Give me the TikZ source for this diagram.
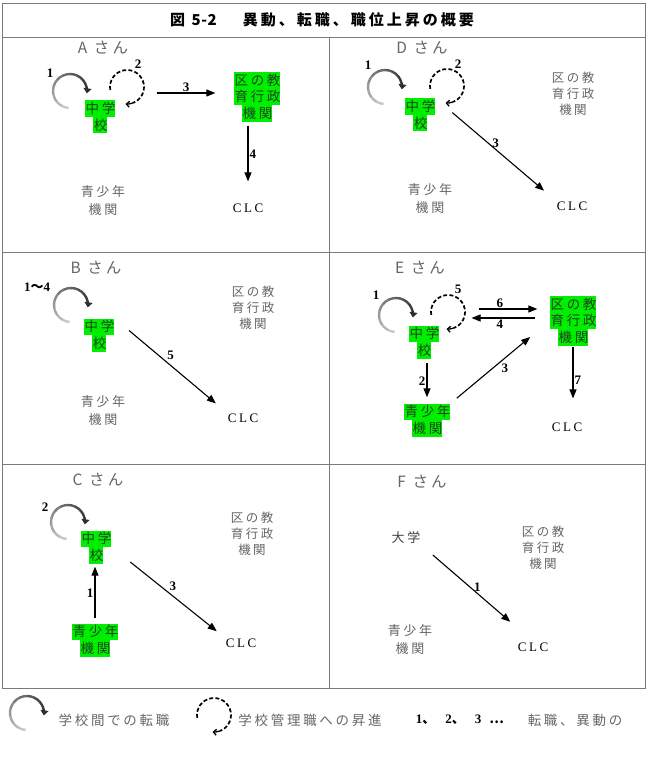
\documentclass[tikz,border=0pt]{standalone}
\usepackage{fontspec}
\setmainfont{Liberation Serif}
\newfontfamily\jp[LetterSpace=20]{Noto Sans CJK JP}
\newfontfamily\jpwide[LetterSpace=20]{Noto Sans CJK JP}
\newfontfamily\clcfont[LetterSpace=20]{Liberation Serif}
\usetikzlibrary{arrows.meta}
\definecolor{hlgreen}{HTML}{00EE00}
\definecolor{hltext}{HTML}{1A441A}
\definecolor{txtgray}{HTML}{666666}
\definecolor{framegray}{HTML}{7A7A7A}
\newcommand{\hlbox}[1]{{\setlength{\fboxsep}{0pt}\colorbox{hlgreen}{\rule[-3.4pt]{0pt}{16.5pt}\hspace{1pt}#1}}}

\tikzset{
  turn/.pic={
    \foreach \i in {0,...,9}{
      \pgfmathtruncatemacro{\sh}{22+6*\i}
      \draw[line width=2.4pt, black!\sh] (95+25*\i:17) arc[start angle=95+25*\i, delta angle=26, radius=17];
    }
    \draw[line width=2.4pt, black!82, -{Triangle[length=5pt,width=8pt]}] (345:17) arc[start angle=345, end angle=368, radius=17];
  },
  climb/.pic={
    \draw[line width=1.7pt, dash pattern=on 4pt off 2.2pt] (170:17) arc[start angle=170, end angle=430, radius=17];
    \draw[line width=1.3pt, -{Straight Barb[length=3pt,width=6pt]}] (430:17) arc[start angle=430, end angle=455, radius=17];
  }
}

\begin{document}
\begin{tikzpicture}[x=1pt, y=-1pt,
  frame/.style={draw=framegray, line width=0.9pt},
  hd/.style={font=\fontsize{15.5}{18}\jpwide, text=txtgray},
  grn/.style={align=center, inner sep=0pt, font=\fontsize{13.5}{16.5}\jp, text=hltext},
  ku/.style={align=center, inner sep=1pt, font=\fontsize{12.5}{16}\jp, text=txtgray},
  yo/.style={align=center, inner sep=1pt, font=\fontsize{13}{18}\jp, text=txtgray},
  clc/.style={inner sep=1pt, font=\fontsize{13}{15}\clcfont},
  num/.style={inner sep=1pt, font=\fontsize{13}{15}\selectfont\bfseries},
  leg/.style={font=\fontsize{13.5}{16}\jpwide, text=txtgray},
  arr/.style={-{Triangle[length=9pt,width=7pt]}, line width=1.1pt}
]
\useasboundingbox (0,0) rectangle (647,770);

% table
\draw[frame] (2,3) rectangle (645,688);
\draw[frame] (2,37) -- (645,37);
\draw[frame] (2,252) -- (645,252);
\draw[frame] (2,464) -- (645,464);
\draw[frame] (329,37) -- (329,688);
\node[font=\fontsize{15}{17}\jpwide\bfseries] (title) at (322,20) {図 {\addfontfeature{LetterSpace=4}5-2}\hspace{26pt}異動、転職、職位上昇の概要};

% A
\node[hd] (hdA) at (103,48) {A さん};
\pic at (70,91) {turn};
\node[num] (nA1) at (50,73) {1};
\pic at (127,87) {climb};
\node[num] (nA2) at (138,64) {2};
\node[grn] (schA) at (100,117) {\hlbox{中学}\\\hlbox{校}};
\node[grn] (kuA) at (257,97) {\hlbox{区の教}\\\hlbox{育行政}\\\hlbox{機関}};
\node[yo] (yoA) at (103,201) {青少年\\機関};
\node[clc] (clcA) at (248,208) {CLC};
\draw[arr, transform canvas={yshift=4pt}, shorten <=41pt, shorten >=18pt] (schA.east |- kuA.west) -- node[num, pos=.6, above] {3} (kuA.west);
\draw[arr, shorten <=4pt, shorten >=21pt] (kuA.south -| clcA) -- node[num, pos=.4, right] {4} (clcA.north);

% D
\node[hd] (hdD) at (422,48) {D さん};
\pic at (385,87) {turn};
\node[num] (nD1) at (368,65) {1};
\pic at (447,86) {climb};
\node[num] (nD2) at (458,64) {2};
\node[grn] (schD) at (420,115) {\hlbox{中学}\\\hlbox{校}};
\node[ku] (kuD) at (573,94) {区の教\\育行政\\機関};
\node[yo] (yoD) at (430,199) {青少年\\機関};
\node[clc] (clcD) at (572,206) {CLC};
\draw[arr, shorten <=22pt, shorten >=15pt] (schD.north east) -- node[num, above] {3} (clcD.north west);

% B
\node[hd] (hdB) at (96,268) {B さん};
\pic at (71,305) {turn};
\node[num] (nB1) at (37,287) {1{\jp ～}4};
\node[grn] (schB) at (99,335) {\hlbox{中学}\\\hlbox{校}};
\node[ku] (kuB) at (253,308) {区の教\\育行政\\機関};
\node[yo] (yoB) at (103,411) {青少年\\機関};
\node[clc] (clcB) at (243,418) {CLC};
\draw[arr, shorten <=19pt, shorten >=14pt] (schB.north east) -- node[num, above=4pt] {5} (clcB.north west);

% E
\node[hd] (hdE) at (420,268) {E さん};
\pic at (396,315) {turn};
\node[num] (nE1) at (376,295) {1};
\pic at (448,312) {climb};
\node[num] (nE5) at (458,289) {5};
\node[grn] (schE) at (424,342) {\hlbox{中学}\\\hlbox{校}};
\node[grn] (kuE) at (573,321) {\hlbox{区の教}\\\hlbox{育行政}\\\hlbox{機関}};
\node[grn] (yoE) at (427,420) {\hlbox{青少年}\\\hlbox{機関}};
\node[clc] (clcE) at (567,427) {CLC};
\draw[arr, transform canvas={yshift=12pt}, shorten <=39pt, shorten >=12pt] (schE.east |- kuE.west) -- node[num, pos=.55, above] {6} (kuE.west);
\draw[arr, transform canvas={yshift=3pt}, shorten <=14pt, shorten >=32pt] (kuE.west) -- node[num, pos=.45, below] {4} (schE.east |- kuE.west);
\draw[arr, shorten <=4pt, shorten >=6pt] (yoE.north |- schE.south) -- node[num, left] {2} (yoE.north);
\draw[arr, shorten <=8pt, shorten >=25pt] (yoE.north east) -- node[num, below right] {3} (kuE.west);
\draw[arr, shorten <=1pt, shorten >=23pt] (kuE.south) -- node[num, pos=.45, right] {7} (kuE.south |- clcE.north);

% C
\node[hd] (hdC) at (98,480) {C さん};
\pic at (68,522) {turn};
\node[num] (nC2) at (45,507) {2};
\node[grn] (schC) at (96,547) {\hlbox{中学}\\\hlbox{校}};
\node[grn] (yoC) at (95,640) {\hlbox{青少年}\\\hlbox{機関}};
\node[ku] (kuC) at (252,534) {区の教\\育行政\\機関};
\node[clc] (clcC) at (241,643) {CLC};
\draw[arr, shorten <=5pt, shorten >=3pt] (yoC.north) -- node[num, left] {1} (yoC.north |- schC.south);
\draw[arr, shorten <=24pt, shorten >=10pt] (schC.east) -- node[num, above right] {3} (clcC.north west);

% F
\node[hd] (hdF) at (422,482) {F さん};
\node[yo, text=black!75] (univF) at (406,538) {大学};
\node[ku] (kuF) at (543,548) {区の教\\育行政\\機関};
\node[yo] (yoF) at (410,640) {青少年\\機関};
\node[clc] (clcF) at (533,647) {CLC};
\draw[arr, shorten <=15pt, shorten >=30pt] (univF.south east) -- node[num, above] {1} (clcF.north);

% legend
\pic at (27,713) {turn};
\node[leg] (lg1) at (114,720) {学校間での転職};
\pic at (214,715) {climb};
\node[leg] (lg2) at (310,720) {学校管理職への昇進};
\node[num] (lg3) at (460,720) {1{\jp 、}\hspace{10pt}2{\jp 、}\hspace{10pt}3\hspace{8pt}{\jp …}};
\node[leg] (lg4) at (575,720) {転職、異動の};
\end{tikzpicture}
\end{document}
